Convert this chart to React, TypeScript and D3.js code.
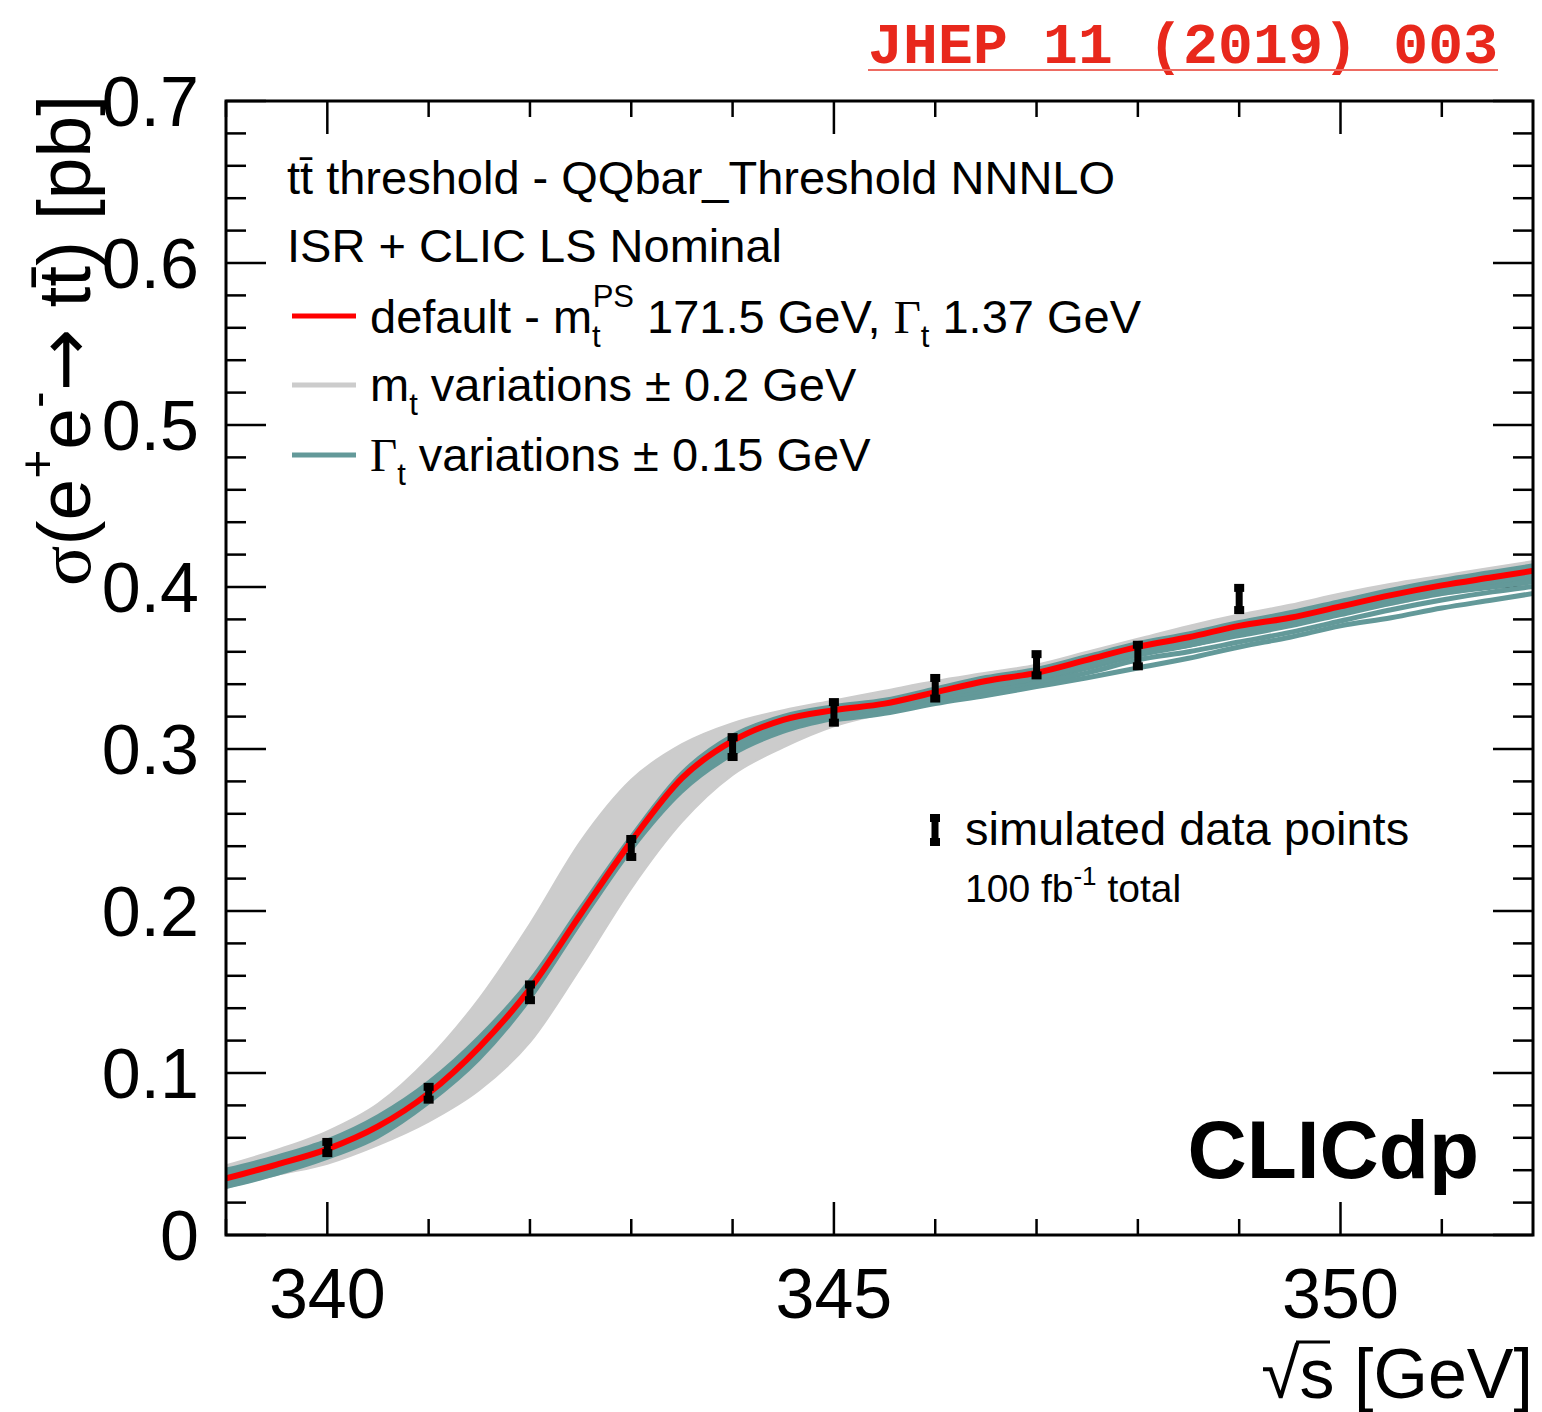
import React from "react";
import * as d3 from "d3";

// sqrt(s) grid of the theory curves [GeV]
const energies = [
  339, 339.5, 340, 340.5, 341, 341.5, 342, 342.5, 343, 343.5, 344, 344.5, 345,
  345.5, 346, 346.5, 347, 347.5, 348, 348.5, 349, 349.5, 350, 350.5, 351, 351.5, 352,
];

// default - mt 171.5 GeV, Gt 1.37 GeV  [pb]
const defaultXsec = [
  0.035, 0.0435, 0.053, 0.067, 0.0875, 0.116, 0.152, 0.198, 0.243, 0.282, 0.305,
  0.318, 0.324, 0.328, 0.335, 0.342, 0.347, 0.355, 0.363, 0.369, 0.376, 0.381,
  0.388, 0.395, 0.401, 0.406, 0.411,
];

// envelope of the mt variations (+-0.2 GeV)
const massUpper = [
  0.043, 0.0525, 0.064, 0.081, 0.109, 0.146, 0.192, 0.243, 0.281, 0.303, 0.316,
  0.324, 0.33, 0.336, 0.342, 0.347, 0.352, 0.36, 0.368, 0.376, 0.383, 0.389,
  0.396, 0.402, 0.407, 0.412, 0.417,
];
const massLower = [
  0.029, 0.037, 0.044, 0.0555, 0.07, 0.0895, 0.119, 0.165, 0.214, 0.255, 0.284,
  0.301, 0.314, 0.322, 0.329, 0.336, 0.341, 0.349, 0.357, 0.364, 0.37, 0.376,
  0.383, 0.389, 0.395, 0.4, 0.405,
];

// envelope of the width variations (+-0.15 GeV)
const widthUpper = [
  0.041, 0.049, 0.059, 0.074, 0.095, 0.123, 0.158, 0.203, 0.247, 0.286, 0.309,
  0.321, 0.327, 0.331, 0.338, 0.345, 0.35, 0.358, 0.366, 0.372, 0.379, 0.385,
  0.392, 0.399, 0.405, 0.41, 0.415,
];
const widthLower = [
  0.029, 0.037, 0.047, 0.06, 0.081, 0.108, 0.145, 0.192, 0.237, 0.273, 0.296,
  0.31, 0.318, 0.323, 0.33, 0.336, 0.341, 0.349, 0.357, 0.363, 0.37, 0.376,
  0.383, 0.39, 0.396, 0.401, 0.406,
];

// the separated width-variation curves above threshold
const tailEnergies = [345, 345.5, 346, 346.5, 347, 347.5, 348, 348.5, 349, 349.5, 350, 350.5, 351, 351.5, 352];
const widthCurveA = [0.321, 0.325, 0.332, 0.338, 0.344, 0.351, 0.359, 0.364, 0.37, 0.376, 0.383, 0.39, 0.396, 0.4, 0.404];
const widthCurveB = [0.319, 0.323, 0.33, 0.335, 0.3405, 0.347, 0.355, 0.36, 0.366, 0.372, 0.379, 0.386, 0.392, 0.397, 0.401];
const widthCurveC = [0.318, 0.322, 0.328, 0.333, 0.3385, 0.344, 0.35, 0.356, 0.363, 0.369, 0.376, 0.381, 0.387, 0.392, 0.397];

// simulated data points, 100 fb-1 total
const pointEnergies = [340, 341, 342, 343, 344, 345, 346, 347, 348, 349];
const pointXsec = [0.054, 0.0875, 0.1498, 0.2389, 0.3012, 0.3226, 0.3375, 0.352, 0.3577, 0.3926];
const pointErr = [0.0053, 0.0058, 0.0067, 0.0074, 0.008, 0.0082, 0.0082, 0.0084, 0.0085, 0.0087];

const xMajorTicks = [340, 345, 350];
const yMajorTicks = [0, 0.1, 0.2, 0.3, 0.4, 0.5, 0.6, 0.7];

const FONT = "'Liberation Sans', Arial, Helvetica, sans-serif";
const SERIF = "'Liberation Serif', 'Times New Roman', serif";
const RED = "#ff0000";
const GRAY = "#cccccc";
const TEAL = "#639999";

const W = 1542;
const H = 1412;
const left = 226;
const right = 1533;
const top = 101;
const bottom = 1235;

function ErrorBar({ cx, y0, y1 }: { cx: number; y0: number; y1: number }) {
  return (
    <g>
      <line x1={cx} x2={cx} y1={y0} y2={y1} stroke="#000" strokeWidth={7} />
      <rect x={cx - 5} y={y1 - 1} width={10} height={8} fill="#000" />
      <rect x={cx - 5} y={y0 - 7} width={10} height={8} fill="#000" />
    </g>
  );
}

export default function App() {
  const x = d3.scaleLinear().domain([339, 351.9]).range([left, right]);
  const y = d3.scaleLinear().domain([0, 0.7]).range([bottom, top]);

  const xMinor = x.ticks(13).filter((t) => !xMajorTicks.includes(t));
  const yMinor = y.ticks(35).filter((t) => !yMajorTicks.some((m) => Math.abs(m - t) < 1e-6));

  const line = d3
    .line<[number, number]>()
    .x((d) => x(d[0]))
    .y((d) => y(d[1]))
    .curve(d3.curveMonotoneX);

  const makeBand = (lo: number[], hi: number[]) =>
    d3
      .area<number>()
      .x((e) => x(e))
      .y0((_, i) => y(lo[i]))
      .y1((_, i) => y(hi[i]))
      .curve(d3.curveMonotoneX)(energies) || "";

  const zip = (xs: number[], ys: number[]) => xs.map((v, i) => [v, ys[i]] as [number, number]);

  return (
    <div style={{ position: "absolute", left: 0, top: 0 }}>
      <svg width={W} height={H} style={{ display: "block", background: "#fff" }} fontFamily={FONT}>
        <defs>
          <clipPath id="plotArea">
            <rect x={left} y={top} width={right - left} height={bottom - top} />
          </clipPath>
        </defs>

        {/* journal reference */}
        <text x={868} y={63} fontFamily="'Liberation Mono', 'DejaVu Sans Mono', monospace" fontWeight="bold" fontSize={58} fill="#e8281c" textLength={630}>
          JHEP 11 (2019) 003
        </text>
        <line x1={868} x2={1498} y1={70} y2={70} stroke="#ee6b62" strokeWidth={2} />

        {/* ticks (drawn under the curves) */}
        <g stroke="#000" strokeWidth={2.5}>
          {yMajorTicks.map((t) => (
            <g key={"ym" + t}>
              <line x1={left} x2={left + 40} y1={y(t)} y2={y(t)} />
              <line x1={right} x2={right - 40} y1={y(t)} y2={y(t)} />
            </g>
          ))}
          {yMinor.map((t) => (
            <g key={"yn" + t}>
              <line x1={left} x2={left + 20} y1={y(t)} y2={y(t)} />
              <line x1={right} x2={right - 20} y1={y(t)} y2={y(t)} />
            </g>
          ))}
          {xMajorTicks.map((t) => (
            <g key={"xm" + t}>
              <line x1={x(t)} x2={x(t)} y1={bottom} y2={bottom - 33} />
              <line x1={x(t)} x2={x(t)} y1={top} y2={top + 33} />
            </g>
          ))}
          {xMinor.map((t) => (
            <g key={"xn" + t}>
              <line x1={x(t)} x2={x(t)} y1={bottom} y2={bottom - 16} />
              <line x1={x(t)} x2={x(t)} y1={top} y2={top + 16} />
            </g>
          ))}
        </g>

        {/* curves */}
        <g clipPath="url(#plotArea)">
          <path d={makeBand(massLower, massUpper)} fill={GRAY} stroke={GRAY} strokeWidth={2} />
          <path d={makeBand(widthLower, widthUpper)} fill={TEAL} stroke={TEAL} strokeWidth={2} />
          {[widthCurveA, widthCurveB, widthCurveC].map((c, k) => (
            <path key={k} d={line(zip(tailEnergies, c)) || ""} fill="none" stroke={TEAL} strokeWidth={5} />
          ))}
          <path d={line(zip(energies, defaultXsec)) || ""} fill="none" stroke={RED} strokeWidth={6} />
        </g>

        {/* data points */}
        {pointEnergies.map((e, i) => (
          <ErrorBar key={e} cx={x(e)} y0={y(pointXsec[i] - pointErr[i])} y1={y(pointXsec[i] + pointErr[i])} />
        ))}

        {/* frame */}
        <rect x={left} y={top} width={right - left} height={bottom - top} fill="none" stroke="#000" strokeWidth={3} />

        {/* tick labels */}
        <g fontSize={70}>
          {yMajorTicks.map((t) => (
            <text key={"yl" + t} x={199} y={y(t) + 25} textAnchor="end">
              {t === 0 ? "0" : t.toFixed(1)}
            </text>
          ))}
          {xMajorTicks.map((t) => (
            <text key={"xl" + t} x={x(t)} y={1318} textAnchor="middle">
              {t}
            </text>
          ))}
        </g>

        {/* axis titles */}
        <text x={right} y={1398} fontSize={70} textAnchor="end">
          √s [GeV]
        </text>
        <line x1={1296} x2={1330} y1={1342} y2={1342} stroke="#000" strokeWidth={3} />
        <text transform="translate(90,95) rotate(-90)" fontSize={75} textAnchor="end">
          <tspan fontFamily={SERIF}>σ</tspan>(e<tspan fontSize={50} dy={-36}>+</tspan>
          <tspan dy={36}>e</tspan>
          <tspan fontSize={50} dy={-36}>-</tspan>
          <tspan dy={36} fontFamily="'DejaVu Sans', sans-serif">→</tspan>
          <tspan> tt̄) [pb]</tspan>
        </text>

        {/* legend */}
        <g fontSize={47}>
          <text x={287} y={194}>tt̄ threshold - QQbar_Threshold NNNLO</text>
          <text x={287} y={262}>ISR + CLIC LS Nominal</text>

          <line x1={292} x2={356} y1={316} y2={316} stroke={RED} strokeWidth={5} />
          <text x={370} y={333}>
            default - m<tspan fontSize={31} dy={14}>t</tspan>
            <tspan fontSize={31} dx={-8} dy={-40}>PS</tspan>
            <tspan dy={26}> 171.5 GeV, </tspan>
            <tspan fontFamily={SERIF}>Γ</tspan>
            <tspan fontSize={31} dy={14}>t</tspan>
            <tspan dy={-14}> 1.37 GeV</tspan>
          </text>

          <line x1={292} x2={356} y1={385} y2={385} stroke={GRAY} strokeWidth={5} />
          <text x={370} y={401}>
            m<tspan fontSize={31} dy={14}>t</tspan>
            <tspan dy={-14}> variations ± 0.2 GeV</tspan>
          </text>

          <line x1={292} x2={356} y1={455} y2={455} stroke={TEAL} strokeWidth={5} />
          <text x={370} y={471}>
            <tspan fontFamily={SERIF}>Γ</tspan>
            <tspan fontSize={31} dy={14}>t</tspan>
            <tspan dy={-14}> variations ± 0.15 GeV</tspan>
          </text>

          <ErrorBar cx={935} y0={845} y1={815} />
          <text x={965} y={845}>simulated data points</text>
          <text x={965} y={902} fontSize={39}>
            100 fb<tspan fontSize={26} dy={-17}>-1</tspan>
            <tspan dy={17}> total</tspan>
          </text>
        </g>

        <text x={1479} y={1178} fontSize={82} fontWeight="bold" textAnchor="end">
          CLICdp
        </text>
      </svg>
    </div>
  );
}
